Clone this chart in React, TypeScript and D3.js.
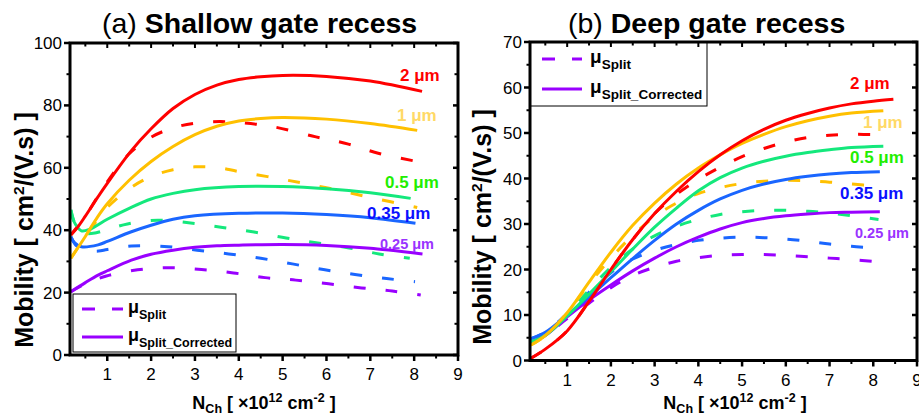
import React from 'react';
import * as d3 from 'd3';

type P = [number, number];

// ---------- data ----------
const xTicks = [1, 2, 3, 4, 5, 6, 7, 8, 9];
const yTicksA = [0, 20, 40, 60, 80, 100];
const yTicksB = [0, 10, 20, 30, 40, 50, 60, 70];
const widthLabels = ['2 μm', '1 μm', '0.5 μm', '0.35 μm', '0.25 μm'];
const seriesNames = ['Split', 'Split_Corrected'];

// Panel (a) Shallow gate recess
const redSolidA: P[] = [[0.17,38.5],[0.3,40.5],[0.5,44.5],[0.78,50.5],[1,55],[1.55,65.5],[2,72.5],[2.5,79],[3,83.5],[3.5,86.5],[4,88.3],[4.5,89.2],[5,89.6],[6,89.3],[7,87.8],[8.18,84.5]];
const redDashA: P[] = [[0.17,38.5],[0.5,44.5],[1,55.5],[1.5,64.5],[2,69.8],[2.5,72.8],[3,74.3],[3.56,74.8],[4,74.5],[4.77,73.2],[5.76,69.9],[6.5,67.6],[7.2,64.6],[8.08,62]];
const yellowSolidA: P[] = [[0.17,31],[0.5,38],[0.78,44.3],[1,48.5],[1.5,56],[2,62],[2.5,66.8],[3,70.6],[3.5,73.3],[4,75],[4.5,75.8],[5,76.1],[6,75.6],[7,74.2],[8.07,72]];
const yellowDashA: P[] = [[0.17,31],[0.5,38],[0.8,43.8],[1,47.3],[1.5,53.3],[2,57.2],[2.5,59.4],[3,60.3],[3.5,60.1],[4,58.8],[5,56.3],[6,53.6],[7,50.5],[8.07,47.3]];
const greenSolidA: P[] = [[0.17,46.5],[0.25,42.5],[0.41,39.8],[0.6,40.3],[1,43.5],[1.5,47],[2,50],[2.5,51.8],[3,53],[4,54],[5,54],[6,53.3],[7,52],[7.92,50.2]];
const greenDashA: P[] = [[0.17,46.5],[0.3,41],[0.5,39],[0.75,39.2],[1,40.2],[1.46,42],[2.15,43.2],[2.9,42.3],[3.63,40.9],[4.35,39.4],[5.08,37.5],[5.8,35.9],[6.52,34.3],[7.2,32.4],[7.9,31]];
const blueSolidA: P[] = [[0.17,37.9],[0.25,36],[0.41,34.7],[0.79,35.3],[1,36.4],[1.55,39.5],[2,41.6],[2.5,43.5],[3,44.6],[4,45.4],[5,45.5],[6,45],[7,44],[8.03,42.2]];
const blueDashA: P[] = [[0.17,37.9],[0.3,35],[0.5,33.6],[0.8,33.3],[1,33.8],[1.55,34.9],[2.3,34.8],[3.05,33.6],[3.77,32.4],[4.5,31],[5.22,29.2],[5.93,27.4],[6.65,25.8],[7.37,24.5],[8.02,23.5]];
const purpleSolidA: P[] = [[0.17,20.3],[0.5,23.2],[0.79,25.6],[1,27],[1.55,30.4],[2,32.3],[2.5,33.6],[3,34.5],[3.5,35],[4,35.2],[5,35.4],[6,35.1],[7,34.2],[8.19,32.4]];
const purpleDashA: P[] = [[0.17,20.3],[0.5,22.8],[0.98,25.3],[1.69,27.3],[2.42,28],[3.15,27.4],[3.88,26.3],[4.6,24.8],[5.3,24],[6.05,22.8],[6.8,21.5],[7.5,20.5],[8.15,19.2]];

// Panel (b) Deep gate recess
const redSolidB: P[] = [[0.17,0.5],[0.5,2.5],[1,6.5],[1.5,13],[2,20],[2.5,26.6],[3,32.3],[3.5,37.2],[4,41.5],[4.5,45.2],[5,48.3],[5.5,50.8],[6,52.8],[6.5,54.3],[7,55.5],[7.5,56.4],[8,57],[8.46,57.4]];
const redDashB: P[] = [[0.17,0.5],[0.5,2.5],[1,6.5],[1.5,13],[2,20],[2.5,26.6],[3,32.3],[3.5,36.5],[4,39.8],[4.5,42.5],[5,44.8],[5.5,46.6],[6,48],[6.5,49],[7,49.5],[7.5,49.7],[8.15,49.6]];
const yellowSolidB: P[] = [[0.17,3.4],[0.5,5.5],[1,10.5],[1.5,17.2],[2,23.8],[2.5,29.7],[3,34.6],[3.5,38.8],[4,42.3],[4.5,45.2],[5,47.7],[5.5,49.7],[6,51.4],[6.5,52.7],[7,53.7],[7.5,54.4],[8.23,54.9]];
const yellowDashB: P[] = [[0.17,3.4],[0.5,5.5],[1,10.5],[1.5,16.8],[2,22.5],[2.5,27.5],[3,31.6],[3.5,34.6],[4,36.7],[4.5,38],[5,38.9],[5.5,39.4],[6,39.6],[6.5,39.5],[7,39.2],[7.5,38.8],[8.15,38.2]];
const greenSolidB: P[] = [[0.17,4.1],[0.5,5.5],[1,9.8],[1.5,14.6],[2,19.5],[2.5,24.5],[3,29.3],[3.5,33.5],[4,37.3],[4.5,40.2],[5,42.3],[5.5,43.8],[6,44.9],[6.5,45.7],[7,46.3],[7.5,46.8],[8.23,47.1]];
const greenDashB: P[] = [[0.17,4.1],[0.5,5.5],[1,10],[1.5,15.5],[2,20.5],[2.5,24.5],[3,27.4],[3.5,29.5],[4,31],[4.5,32.1],[5,32.7],[5.5,33],[6,33],[6.5,32.8],[7,32.4],[7.5,31.8],[8.12,31]];
const blueSolidB: P[] = [[0.17,4.8],[0.5,6.2],[1,10],[1.5,14],[2,18.2],[2.5,22.4],[3,26.4],[3.5,30],[4,33],[4.5,35.5],[5,37.4],[5.5,38.8],[6,39.8],[6.5,40.5],[7,41],[7.5,41.3],[8.15,41.5]];
const blueDashB: P[] = [[0.17,4.8],[0.5,6.2],[1,10.3],[1.5,15],[2,19.3],[2.5,22.3],[3,24.2],[3.5,25.5],[4,26.4],[4.5,26.9],[5,27.1],[5.5,27],[6,26.7],[6.5,26.2],[7,25.6],[7.5,25.1],[8.12,24.7]];
const purpleSolidB: P[] = [[0.17,4],[0.5,5.5],[1,9.6],[1.5,13.3],[2,16.6],[2.5,19.7],[3,22.5],[3.5,25],[4,27.1],[4.5,28.9],[5,30.3],[5.5,31.2],[6,31.8],[6.5,32.2],[7,32.5],[7.5,32.6],[8.15,32.7]];
const purpleDashB: P[] = [[0.17,4],[0.5,5.5],[1,9.2],[1.5,12.6],[2,16],[2.5,18.7],[3,20.5],[3.5,21.8],[4,22.6],[4.5,23.1],[5,23.3],[5.5,23.3],[6,23.1],[6.5,22.8],[7,22.5],[7.5,22.2],[8.08,21.7]];

// ---------- styles ----------
const FONT = "'Liberation Sans', Arial, Helvetica, sans-serif";
const lineColors = ['#ff0000', '#ffc000', '#14e87c', '#1a66ff', '#9900ff'];
const labelColors = ['#ff0000', '#ffd966', '#22ee00', '#0a10ff', '#9933ff'];

interface Cfg {
  id: string;
  left: number; right: number; top: number; bottom: number;
  yMax: number; yTicks: number[]; yMinor: number;
  solid: P[][]; dash: P[][];
  title: [string, string]; titleX: number;
  labelPos: { x: number; y: number; size: number }[];
  legend: { x0: number; y0: number; x1: number; y1: number; lx0: number; lx1: number; ly: [number, number]; tx: number; mu: number; sub: number };
  yLabelX: number; yLabelY: number; xLabelX: number;
}

const cfgA: Cfg = {
  id: 'a', left: 70, right: 458, top: 43, bottom: 355,
  yMax: 100, yTicks: yTicksA, yMinor: 10,
  solid: [redSolidA, yellowSolidA, greenSolidA, blueSolidA, purpleSolidA],
  dash: [redDashA, yellowDashA, greenDashA, blueDashA, purpleDashA],
  title: ['(a)', ' Shallow gate recess'], titleX: 102,
  labelPos: [
    { x: 400, y: 81, size: 17 }, { x: 397, y: 121, size: 17 }, { x: 385, y: 188, size: 17 },
    { x: 367, y: 219, size: 17 }, { x: 380, y: 249, size: 14.5 },
  ],
  legend: { x0: 73, y0: 294, x1: 236, y1: 352, lx0: 82, lx1: 123, ly: [309, 337], tx: 128, mu: 18, sub: 12.5 },
  yLabelX: 33, yLabelY: 230, xLabelX: 264,
};

const cfgB: Cfg = {
  id: 'b', left: 530, right: 917, top: 42, bottom: 360.5,
  yMax: 70, yTicks: yTicksB, yMinor: 5,
  solid: [redSolidB, yellowSolidB, greenSolidB, blueSolidB, purpleSolidB],
  dash: [redDashB, yellowDashB, greenDashB, blueDashB, purpleDashB],
  title: ['(b)', ' Deep gate recess'], titleX: 568,
  labelPos: [
    { x: 850, y: 89, size: 17 }, { x: 863, y: 128, size: 17 }, { x: 850, y: 163, size: 17 },
    { x: 840, y: 199, size: 17 }, { x: 855, y: 238, size: 14.5 },
  ],
  legend: { x0: 530, y0: 42, x1: 707, y1: 106, lx0: 542, lx1: 582, ly: [59, 89], tx: 590, mu: 19, sub: 13.5 },
  yLabelX: 491, yLabelY: 227, xLabelX: 735,
};

function Panel({ c }: { c: Cfg }) {
  const x = d3.scaleLinear().domain([0.15, 9]).range([c.left, c.right]);
  const y = d3.scaleLinear().domain([0, c.yMax]).range([c.bottom, c.top]);
  const line = d3.line<P>().x(d => x(d[0])).y(d => y(d[1])).curve(d3.curveCatmullRom.alpha(0.5));
  const xMinor = d3.range(0.5, 9.01, 0.5).filter(v => !Number.isInteger(v));
  const topTicks = d3.range(0.5, 8.99, 0.5);
  const yMinor = d3.range(c.yMinor, c.yMax, c.yMinor * 2);
  const order = [4, 3, 2, 1, 0];
  const lg = c.legend;
  return (
    <g>
      <defs>
        <clipPath id={'clip' + c.id}>
          <rect x={c.left} y={c.top} width={c.right - c.left} height={c.bottom - c.top} />
        </clipPath>
      </defs>
      {/* title */}
      <text x={c.titleX} y={33} fontFamily={FONT} fontSize={28.5} fill="#000">
        <tspan>{c.title[0]}</tspan>
        <tspan fontWeight="bold">{c.title[1]}</tspan>
      </text>
      {/* curves */}
      <g clipPath={`url(#clip${c.id})`}>
        {order.map(i => (
          <path key={'d' + i} d={line(c.dash[i]) || ''} fill="none" stroke={lineColors[i]} strokeWidth={3} strokeDasharray="12,20" />
        ))}
        {order.map(i => (
          <path key={'s' + i} d={line(c.solid[i]) || ''} fill="none" stroke={lineColors[i]} strokeWidth={3} />
        ))}
      </g>
      {/* curve labels */}
      {c.labelPos.map((p, i) => (
        <text key={'l' + i} x={p.x} y={p.y} fontFamily={FONT} fontSize={p.size} fontWeight="bold" fill={labelColors[i]}>
          {widthLabels[i]}
        </text>
      ))}
      {/* legend */}
      <rect x={lg.x0} y={lg.y0} width={lg.x1 - lg.x0} height={lg.y1 - lg.y0} fill="#fff" stroke="#000" strokeWidth={1} />
      <line x1={lg.lx0} x2={lg.lx1} y1={lg.ly[0]} y2={lg.ly[0]} stroke={lineColors[4]} strokeWidth={3} strokeDasharray="13,17" />
      <line x1={lg.lx0} x2={lg.lx1} y1={lg.ly[1]} y2={lg.ly[1]} stroke={lineColors[4]} strokeWidth={3} />
      {seriesNames.map((s, i) => (
        <text key={'lg' + i} x={lg.tx} y={lg.ly[i] + 4} fontFamily={FONT} fontWeight="bold" fontSize={lg.mu} fill="#000">
          μ<tspan fontSize={lg.sub} dy={6}>{s}</tspan>
        </text>
      ))}
      {/* axes frame */}
      <rect x={c.left} y={c.top} width={c.right - c.left} height={c.bottom - c.top} fill="none" stroke="#000" strokeWidth={3} />
      {/* x ticks */}
      {xTicks.map(t => (
        <g key={'xt' + t}>
          <line x1={x(t)} x2={x(t)} y1={c.bottom} y2={c.bottom + 6} stroke="#000" strokeWidth={2.5} />
          <text x={x(t)} y={c.bottom + 25} textAnchor="middle" fontFamily={FONT} fontSize={17} fill="#000">{t}</text>
        </g>
      ))}
      {xMinor.map(t => (
        <line key={'xm' + t} x1={x(t)} x2={x(t)} y1={c.bottom} y2={c.bottom + 3.5} stroke="#000" strokeWidth={2} />
      ))}
      {topTicks.map(t => (
        <line key={'tt' + t} x1={x(t)} x2={x(t)} y1={c.top} y2={c.top + (Number.isInteger(t) ? 5 : 3.5)} stroke="#000" strokeWidth={2} />
      ))}
      {/* y ticks */}
      {c.yTicks.map(t => (
        <g key={'yt' + t}>
          <line x1={c.left - 6} x2={c.left} y1={y(t)} y2={y(t)} stroke="#000" strokeWidth={2.5} />
          <line x1={c.right - 5} x2={c.right} y1={y(t)} y2={y(t)} stroke="#000" strokeWidth={2.5} />
          <text x={c.left - 8} y={y(t) + 6} textAnchor="end" fontFamily={FONT} fontSize={17} fill="#000">{t}</text>
        </g>
      ))}
      {yMinor.map(t => (
        <g key={'ym' + t}>
          <line x1={c.left - 3.5} x2={c.left} y1={y(t)} y2={y(t)} stroke="#000" strokeWidth={2} />
          <line x1={c.right - 3.5} x2={c.right} y1={y(t)} y2={y(t)} stroke="#000" strokeWidth={2} />
        </g>
      ))}
      {/* axis labels */}
      <text transform={`translate(${c.yLabelX},${c.yLabelY}) rotate(-90)`} textAnchor="middle" fontFamily={FONT} fontSize={25} fontWeight="bold" fill="#000">
        Mobility [ cm<tspan fontSize={15.5} dy={-9}>2</tspan><tspan dy={9}>/(V.s) ]</tspan>
      </text>
      <text x={c.xLabelX} y={409} textAnchor="middle" fontFamily={FONT} fontSize={18} fontWeight="bold" fill="#000">
        N<tspan fontSize={12.5} dy={4}>Ch</tspan><tspan dy={-4}> [ ×10</tspan><tspan fontSize={12.5} dy={-7}>12</tspan><tspan dy={7}> cm</tspan><tspan fontSize={12.5} dy={-7}>-2</tspan><tspan dy={7}> ]</tspan>
      </text>
    </g>
  );
}

export default function App() {
  return (
    <div style={{ position: 'fixed', left: 0, top: 0 }}>
      <svg width={919} height={419} viewBox="0 0 919 419" style={{ display: 'block', background: '#fff' }}>
        <rect x={0} y={0} width={919} height={419} fill="#fff" />
        <Panel c={cfgA} />
        <Panel c={cfgB} />
      </svg>
    </div>
  );
}
